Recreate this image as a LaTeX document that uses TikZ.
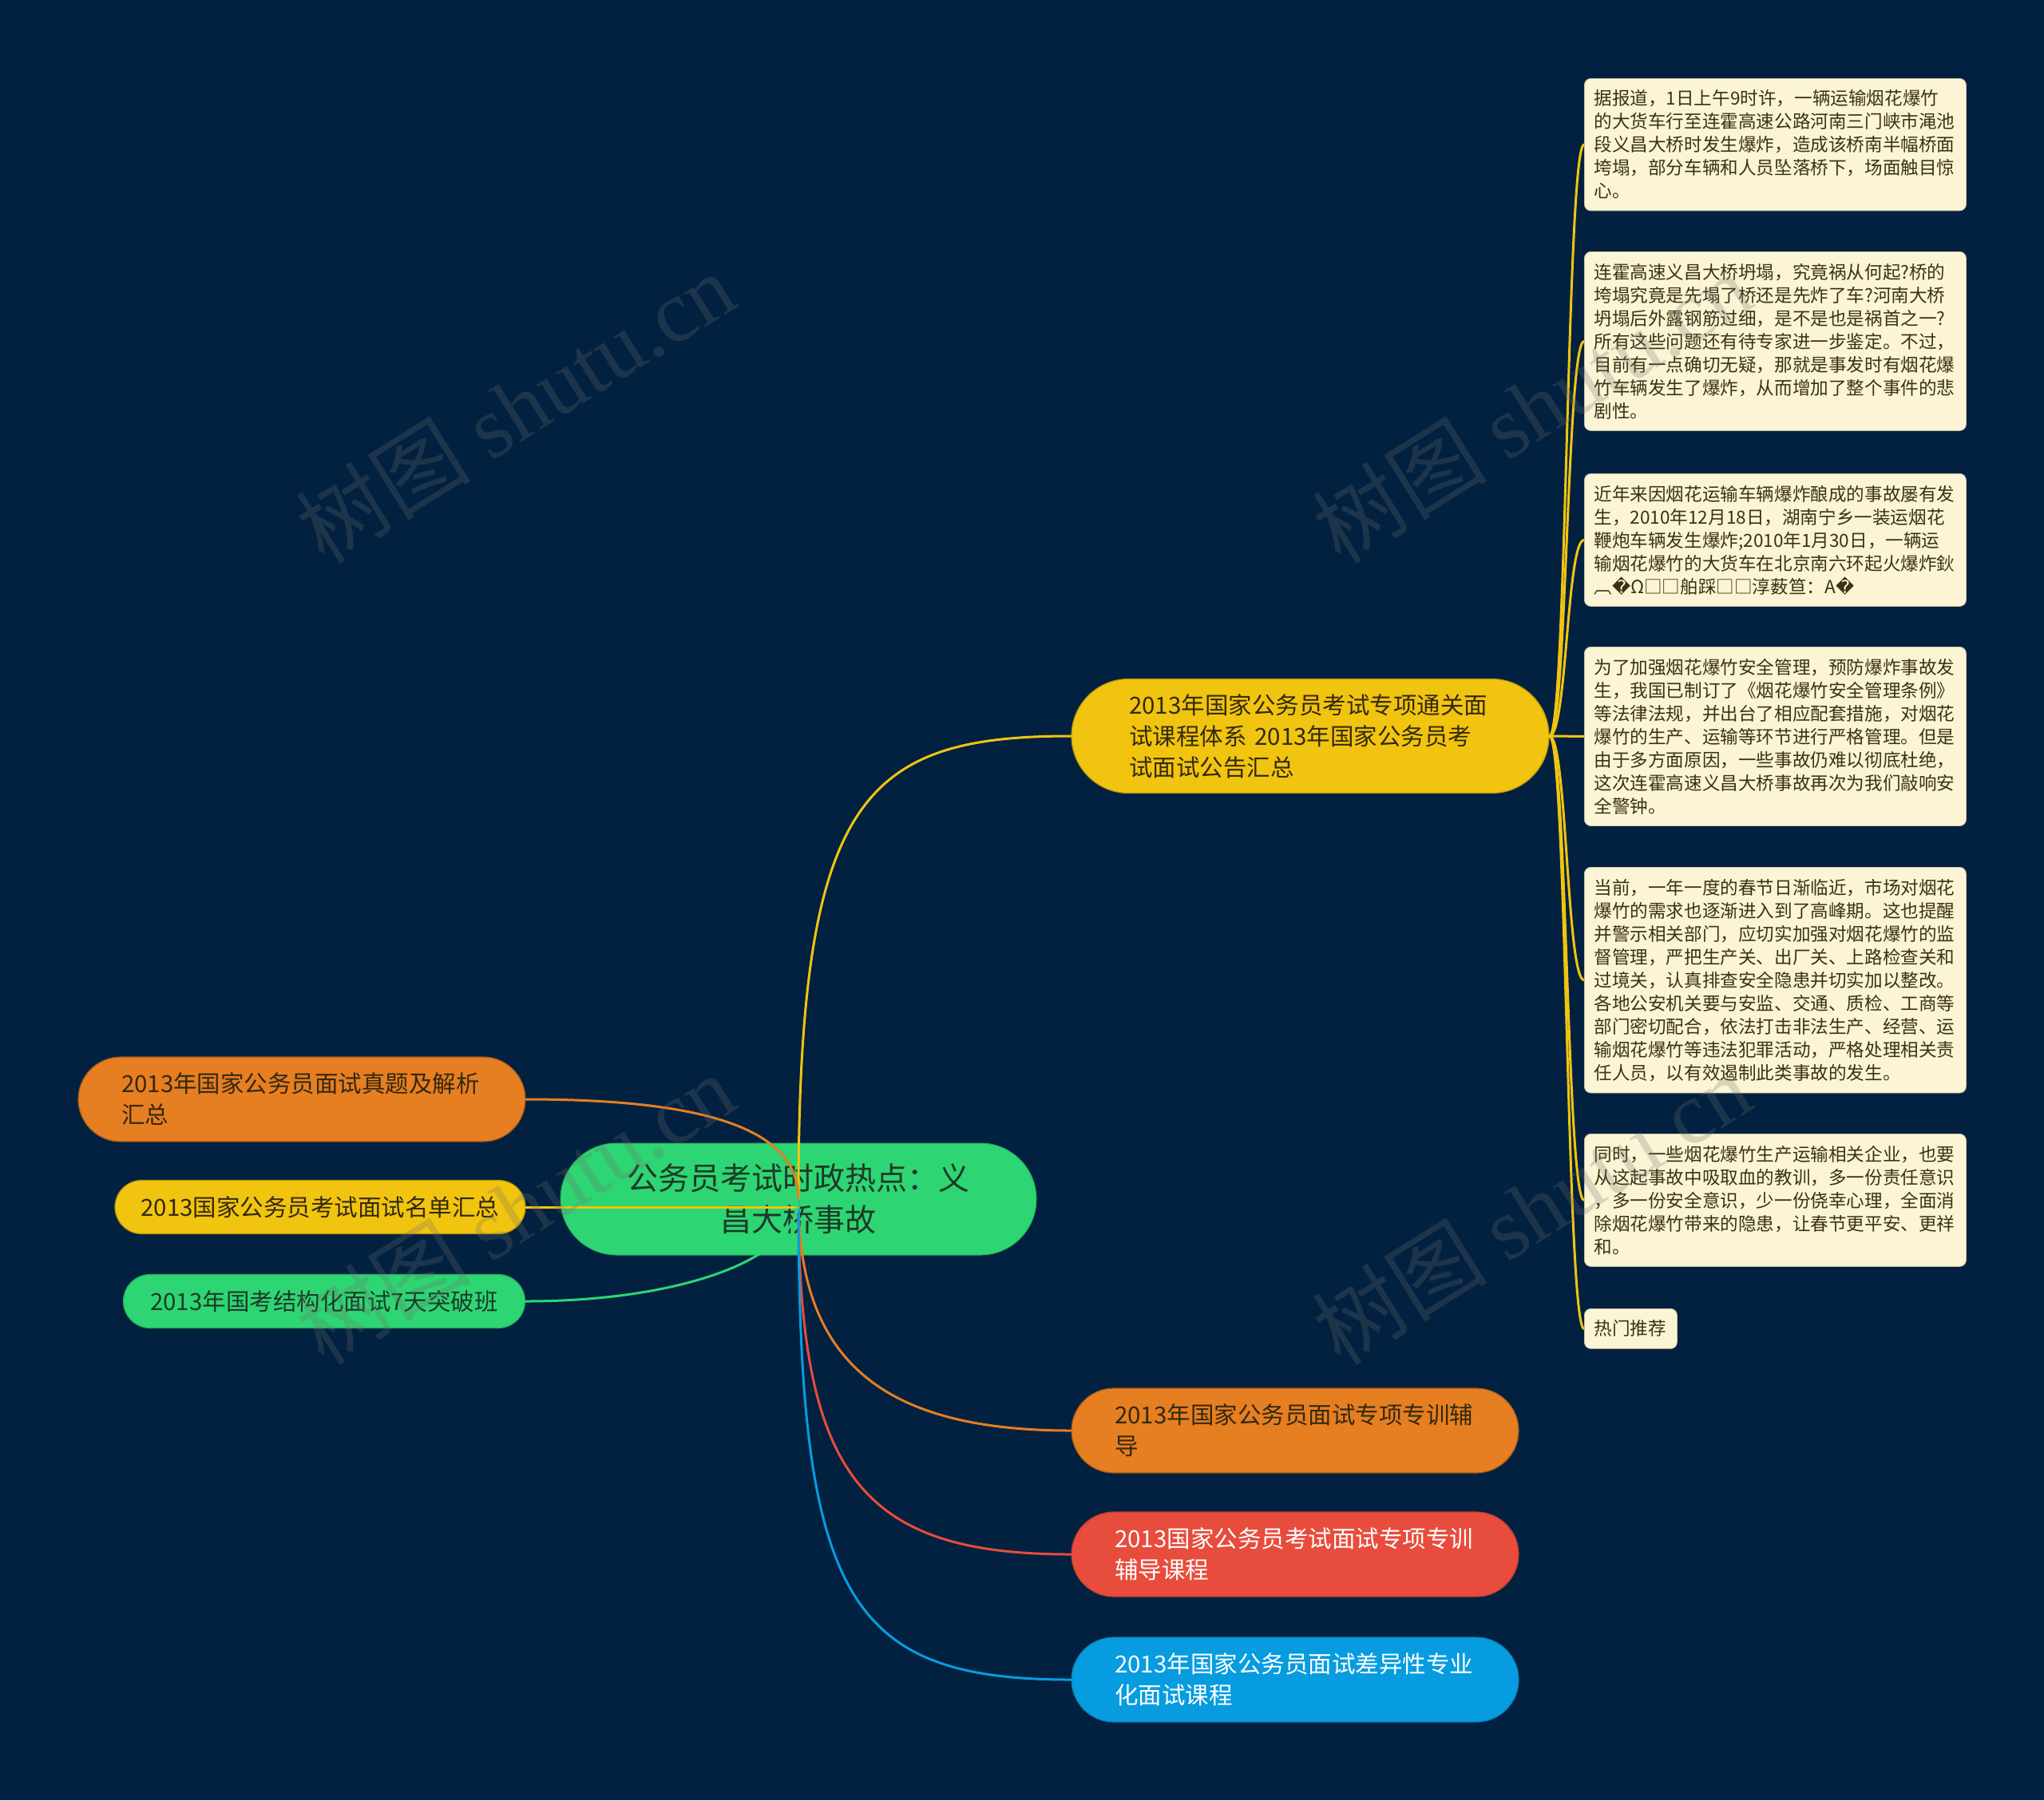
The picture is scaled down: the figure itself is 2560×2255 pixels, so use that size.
\documentclass[tikz,border=0pt]{standalone}
\usepackage{fontspec}
\setmainfont{Noto Sans CJK SC}
\newfontfamily\dejavu{DejaVu Sans}
\newfontfamily\wmserif{Liberation Serif}
\definecolor{bg}{HTML}{022140}
\definecolor{yel}{HTML}{F1C40F}
\definecolor{ora}{HTML}{E67E22}
\definecolor{redc}{HTML}{E74C3C}
\definecolor{blu}{HTML}{079CE0}
\definecolor{grn}{HTML}{2ED573}
\definecolor{notefill}{HTML}{FCF5D5}
\definecolor{notetext}{HTML}{3A3216}
\definecolor{darktext}{HTML}{33290E}
\definecolor{greentext}{HTML}{1C3A28}
\definecolor{wmcol}{HTML}{6E6E6E}
\tikzset{
  conn/.style={line width=3pt, line cap=round},
  branchbox/.style={inner sep=0pt, align=left, font=\fontsize{29.5pt}{39pt}\selectfont},
  notebox/.style={fill=notefill, draw=notefill!80!black, line width=0.8pt, rounded corners=8pt,
    text width=454pt, inner xsep=12pt, inner ysep=14.5pt, align=left, anchor=north west,
    text=notetext, font=\fontsize{22.6pt}{29pt}\selectfont},
  wm/.style={rotate=32, text=wmcol, opacity=0.25, font=\fontsize{110pt}{110pt}\selectfont}
}
\newcommand{\qm}{{\dejavu\char"FFFD}}
\begin{document}
\begin{tikzpicture}[x=1pt,y=-1pt]
\useasboundingbox (0,0) rectangle (2560,2255);
\fill[bg] (0,0) rectangle (2560,2255);

% root
\node[fill=grn, draw=grn!80!black, line width=1pt, minimum width=596pt, minimum height=140pt,
  rounded corners=70pt, text width=560pt, align=center, inner sep=0pt, text=greentext,
  font=\fontsize{39pt}{52pt}\selectfont] (root) at (1000,1502) {公务员考试时政热点：义\\昌大桥事故};

% branches
\node[branchbox, fill=yel, draw=yel!75!black, line width=1.2pt, minimum width=598pt, minimum height=143pt,
  rounded corners=71.5pt, text width=454pt, text=darktext] (yt) at (1641,922)
  {2013年国家公务员考试专项通关面\\试课程体系 2013年国家公务员考\\试面试公告汇总};
\node[branchbox, fill=ora, draw=ora!70!black, line width=1.2pt, minimum width=560pt, minimum height=106pt,
  rounded corners=53pt, text width=452pt, text=darktext] (lo) at (378,1377)
  {2013年国家公务员面试真题及解析\\汇总};
\node[branchbox, fill=yel, draw=yel!75!black, line width=1.2pt, minimum width=514pt, minimum height=67pt,
  rounded corners=33.5pt, align=center, text=darktext] (ly) at (401,1512)
  {2013国家公务员考试面试名单汇总};
\node[branchbox, fill=grn, draw=grn!80!black, line width=1.2pt, minimum width=503pt, minimum height=67pt,
  rounded corners=33.5pt, align=center, text=greentext] (lg) at (406,1630)
  {2013年国考结构化面试7天突破班};
\node[branchbox, fill=ora, draw=ora!70!black, line width=1.2pt, minimum width=560pt, minimum height=106pt,
  rounded corners=53pt, text width=452pt, text=darktext] (ro) at (1622,1792)
  {2013年国家公务员面试专项专训辅\\导};
\node[branchbox, fill=redc, draw=redc!80!black, line width=1.2pt, minimum width=560pt, minimum height=106pt,
  rounded corners=53pt, text width=452pt, text=white] (rr) at (1622,1947)
  {2013国家公务员考试面试专项专训\\辅导课程};
\node[branchbox, fill=blu, draw=blu!80!black, line width=1.2pt, minimum width=560pt, minimum height=106pt,
  rounded corners=53pt, text width=452pt, text=white] (rb) at (1622,2104)
  {2013年国家公务员面试差异性专业\\化面试课程};

% notes
\node[notebox] (n1) at (1984,98)
  {据报道，1日上午9时许，一辆运输烟花爆竹\\的大货车行至连霍高速公路河南三门峡市渑池\\段义昌大桥时发生爆炸，造成该桥南半幅桥面\\垮塌，部分车辆和人员坠落桥下，场面触目惊\\心。};
\node[notebox] (n2) at (1984,315)
  {连霍高速义昌大桥坍塌，究竟祸从何起?桥的\\垮塌究竟是先塌了桥还是先炸了车?河南大桥\\坍塌后外露钢筋过细，是不是也是祸首之一?\\所有这些问题还有待专家进一步鉴定。不过，\\目前有一点确切无疑，那就是事发时有烟花爆\\竹车辆发生了爆炸，从而增加了整个事件的悲\\剧性。};
\node[notebox] (n3) at (1984,593)
  {近年来因烟花运输车辆爆炸酿成的事故屡有发\\生，2010年12月18日，湖南宁乡一装运烟花\\鞭炮车辆发生爆炸;2010年1月30日，一辆运\\输烟花爆竹的大货车在北京南六环起火爆炸鈥\\︹\qm Ω□□舶踩□□淳薮笪：A\qm};
\node[notebox] (n4) at (1984,810)
  {为了加强烟花爆竹安全管理，预防爆炸事故发\\生，我国已制订了《烟花爆竹安全管理条例》\\等法律法规，并出台了相应配套措施，对烟花\\爆竹的生产、运输等环节进行严格管理。但是\\由于多方面原因，一些事故仍难以彻底杜绝，\\这次连霍高速义昌大桥事故再次为我们敲响安\\全警钟。};
\node[notebox] (n5) at (1984,1086)
  {当前，一年一度的春节日渐临近，市场对烟花\\爆竹的需求也逐渐进入到了高峰期。这也提醒\\并警示相关部门，应切实加强对烟花爆竹的监\\督管理，严把生产关、出厂关、上路检查关和\\过境关，认真排查安全隐患并切实加以整改。\\各地公安机关要与安监、交通、质检、工商等\\部门密切配合，依法打击非法生产、经营、运\\输烟花爆竹等违法犯罪活动，严格处理相关责\\任人员，以有效遏制此类事故的发生。};
\node[notebox] (n6) at (1984,1420)
  {同时，一些烟花爆竹生产运输相关企业，也要\\从这起事故中吸取血的教训，多一份责任意识\\，多一份安全意识，少一份侥幸心理，全面消\\除烟花爆竹带来的隐患，让春节更平安、更祥\\和。};
\node[notebox, text width=92pt] (n7) at (1984,1639) {热门推荐};

% connectors from root
\draw[conn, yel] (root.center) .. controls +(0,-502) and +(-262,0) .. (yt.west);
\draw[conn, ora] (root.center) .. controls +(0,198) and +(-242,0) .. (ro.west);
\draw[conn, redc] (root.center) .. controls +(0,348) and +(-262,0) .. (rr.west);
\draw[conn, blu] (root.center) .. controls +(0,498) and +(-282,0) .. (rb.west);
\draw[conn, ora] (lo.east) .. controls +(242,0) and +(0,-82) .. (root.center);
\draw[conn, yel] (ly.east) -- (ly.east -| root.center);
\draw[conn, grn] (lg.east) .. controls +(192,0) and +(0,76) .. (root.center);

% connectors to notes
\foreach \n in {n1,n2,n3,n4,n5,n6,n7}{
  \draw[conn, yel] (yt.east) .. controls +(22,0) and +(-22,0) .. (\n.west);
}

% watermarks
\node[wm] (wm1) at (645,510) {树图 {\wmserif shutu.cn}};
\node[wm] (wm2) at (1918,510) {树图 {\wmserif shutu.cn}};
\node[wm] (wm3) at (645,1514) {树图 {\wmserif shutu.cn}};
\node[wm] (wm4) at (1918,1514) {树图 {\wmserif shutu.cn}};
\end{tikzpicture}
\end{document}
